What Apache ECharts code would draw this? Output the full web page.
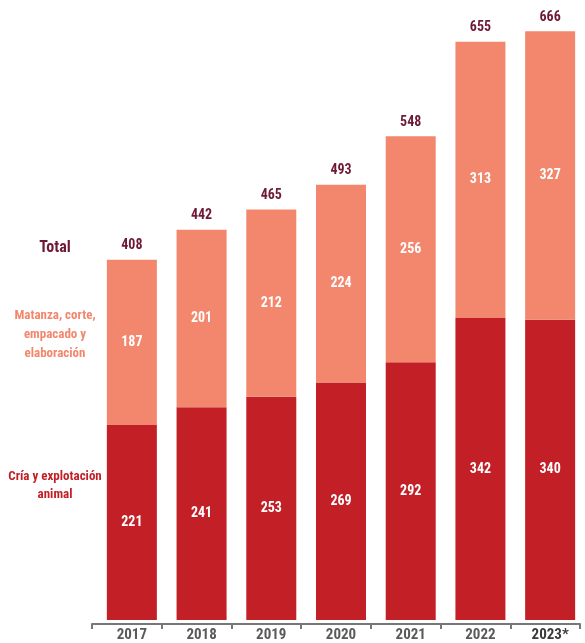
<!DOCTYPE html>
<html><head><meta charset="utf-8">
<script src="https://cdn.jsdelivr.net/npm/echarts@6/dist/echarts.min.js"></script>
<style>html,body{margin:0;padding:0;background:#fff}#c{width:585px;height:643px}</style>
</head><body><div id="c"></div>
<script>
const years = ['2017','2018','2019','2020','2021','2022','2023*'];
const cria = [221,241,253,269,292,342,340];
const matanza = [187,201,212,224,256,313,327];
const totals = [408,442,465,493,548,655,666];

const FONT = '"Liberation Sans Narrow","Roboto Condensed","Liberation Sans",sans-serif';
const chart = echarts.init(document.getElementById('c'), null, {renderer:'canvas'});
chart.setOption({
  animation:false,
  grid:[{left:97,right:0,top:2,bottom:19},{left:92,right:5,top:2,bottom:19}],
  xAxis:[{type:'category',data:years,gridIndex:0,
    axisLine:{show:false},axisTick:{show:false},
    axisLabel:{interval:0,hideOverlap:false,fontFamily:FONT,fontWeight:'bold',fontSize:15,color:'#5a5a5a',margin:8,
      formatter:function(v){return v==='2023*'?'{d|'+v+'}':v;},
      rich:{d:{fontFamily:FONT,fontWeight:'bold',fontSize:15,color:'#3a3a3a'}}}},
    {type:'category',data:years,gridIndex:1,
    axisLine:{lineStyle:{color:'#777',width:2}},
    axisTick:{show:true,length:5,lineStyle:{color:'#777',width:2}},
    axisLabel:{show:false}}],
  yAxis:[{type:'value',min:0,max:700,show:false,splitLine:{show:false},gridIndex:0},
         {type:'value',min:0,max:700,show:false,splitLine:{show:false},gridIndex:1}],
  series:[
    {name:'Cría y explotación animal',type:'bar',stack:'t',data:cria,barWidth:50,
     itemStyle:{color:'#c21f26'},
     label:{show:true,position:'inside',color:'#fff',fontFamily:FONT,fontWeight:'bold',fontSize:14}},
    {name:'Matanza, corte, empacado y elaboración',type:'bar',stack:'t',data:matanza,barWidth:50,
     itemStyle:{color:'#f3876d'},
     label:{show:true,position:'inside',color:'#fff',fontFamily:FONT,fontWeight:'bold',fontSize:14}},
    {name:'Total',type:'bar',stack:'t',data:totals.map(()=>0),barWidth:50,
     itemStyle:{color:'transparent'},
     label:{show:true,position:'top',distance:7,color:'#6e1a37',fontFamily:FONT,fontWeight:'bold',fontSize:14,
       formatter:function(p){return totals[p.dataIndex];}}}
  ],
  graphic:[
    {type:'text',x:55,y:248,style:{text:'Total',fill:'#6e1a37',font:'bold 16px '+FONT,align:'center',verticalAlign:'middle'}},
    {type:'text',x:55,y:335,style:{text:'Matanza, corte,\nempacado y\nelaboración',fill:'#f3876d',font:'bold 13px '+FONT,align:'center',verticalAlign:'middle',lineHeight:19}},
    {type:'text',x:55,y:486,style:{text:'Cría y explotación\nanimal',fill:'#c21f26',font:'bold 13px '+FONT,align:'center',verticalAlign:'middle',lineHeight:18}}
  ]
});
</script></body></html>
